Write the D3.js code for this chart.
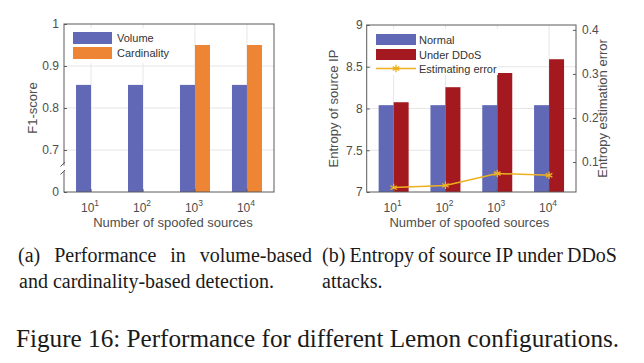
<!DOCTYPE html>
<html>
<head>
<meta charset="utf-8">
<script src="https://cdn.jsdelivr.net/npm/d3@7"></script>
<style>
  html, body { margin: 0; padding: 0; background: #fff; }
  svg { display: block; }
  .tick text { fill: #4d4d4d; }
</style>
</head>
<body>
<div id="viz"></div>
<script>
// ---- data ----
const exponents = ["1", "2", "3", "4"];          // 10^1 .. 10^4 spoofed sources
const volume = [0.855, 0.855, 0.855, 0.855];
const cardinality = [0, 0, 0.95, 0.95];
const f1Ticks = [0.6, 0.7, 0.8, 0.9, 1];          // 0.6 slot is shown as "0" (broken axis)
const f1TickLabels = ["0", "0.7", "0.8", "0.9", "1"];

const normal = [8.04, 8.04, 8.04, 8.04];
const ddos = [8.075, 8.255, 8.425, 8.59];
const estError = [0.042, 0.047, 0.074, 0.070];
const entropyTicks = [7, 7.5, 8, 8.5, 9];
const errorTicks = [0.1, 0.2, 0.3, 0.4];

const WIDTH = 644, HEIGHT = 363;
const COLORS = {
  blue: "#6168b6",
  orange: "#ed8535",
  red: "#a3191f",
  gold: "#edb120",
  grid: "#e6e6e6",
  axis: "#5a5a5a",
  text: "#4d4d4d"
};
const SANS = "'Liberation Sans', Arial, sans-serif";
const SERIF = "'Liberation Serif', 'Times New Roman', serif";

const svg = d3.select("#viz").append("svg")
  .attr("width", WIDTH)
  .attr("height", HEIGHT)
  .attr("viewBox", `0 0 ${WIDTH} ${HEIGHT}`);

const barW = 15;

function powLabel(sel, x, y, exp) {
  const t = sel.append("text")
    .attr("x", x)
    .attr("y", y)
    .attr("text-anchor", "middle")
    .style("font-family", SANS)
    .style("fill", COLORS.text);
  t.append("tspan").style("font-size", "12px").text("10");
  t.append("tspan").attr("dy", -6).style("font-size", "8.5px").text(exp);
}

function frame(g, x0, x1, y0, y1) {
  g.append("rect")
    .attr("x", x0).attr("y", y0)
    .attr("width", x1 - x0).attr("height", y1 - y0)
    .attr("fill", "none")
    .attr("stroke", COLORS.axis)
    .attr("stroke-width", 1);
}

// ---------------- (a) F1-score ----------------
{
  const L = 64, R = 274, T = 24, B = 192;
  const g = svg.append("g");
  const x = d3.scalePoint().domain(exponents).range([L, R]).padding(0.52);
  const y = d3.scaleLinear().domain([0.6, 1]).range([B, T]);
  const yv = v => y(Math.max(v, 0.6));

  // grid
  g.append("g").selectAll("line").data(f1Ticks.slice(1, -1)).join("line")
    .attr("x1", L).attr("x2", R).attr("y1", d => y(d)).attr("y2", d => y(d))
    .attr("stroke", COLORS.grid);
  g.append("g").selectAll("line").data(exponents).join("line")
    .attr("x1", d => x(d)).attr("x2", d => x(d)).attr("y1", T).attr("y2", B)
    .attr("stroke", COLORS.grid);

  // bars
  g.append("g").selectAll("rect").data(volume).join("rect")
    .attr("x", (d, i) => x(exponents[i]) - barW)
    .attr("y", d => yv(d))
    .attr("width", barW)
    .attr("height", d => B - yv(d))
    .attr("fill", COLORS.blue);
  g.append("g").selectAll("rect").data(cardinality).join("rect")
    .attr("x", (d, i) => x(exponents[i]))
    .attr("y", d => yv(d))
    .attr("width", barW)
    .attr("height", d => B - yv(d))
    .attr("fill", COLORS.orange);

  frame(g, L, R, T, B);

  // y axis
  const ya = g.append("g")
    .attr("transform", `translate(${L},0)`)
    .call(d3.axisLeft(y).tickValues(f1Ticks)
      .tickFormat((d, i) => f1TickLabels[i])
      .tickSizeInner(-3).tickSizeOuter(0).tickPadding(5));
  ya.select(".domain").remove();
  ya.selectAll("line").attr("stroke", COLORS.axis);
  ya.selectAll("text").style("font-size", "12px").style("font-family", SANS);

  // x ticks (inward)
  g.append("g").selectAll("line").data(exponents).join("line")
    .attr("x1", d => x(d)).attr("x2", d => x(d)).attr("y1", B).attr("y2", B - 3)
    .attr("stroke", COLORS.axis);
  exponents.forEach(e => powLabel(g, x(e) - 1, 212, e));

  // axis break marks
  g.append("rect").attr("x", L - 2).attr("y", 165.5).attr("width", 4).attr("height", 5.5).attr("fill", "#fff");
  [166.5, 174.5].forEach(yy => {
    g.append("line")
      .attr("x1", L - 3.5).attr("y1", yy)
      .attr("x2", L + 1).attr("y2", yy - 4.5)
      .attr("stroke", COLORS.axis).attr("stroke-width", 1);
  });

  g.append("text")
    .attr("x", (L + R) / 2 + 4).attr("y", 227)
    .attr("text-anchor", "middle")
    .style("font-family", SANS).style("font-size", "13px").style("fill", COLORS.text)
    .text("Number of spoofed sources");
  g.append("text")
    .attr("transform", `translate(37,${(T + B) / 2}) rotate(-90)`)
    .attr("text-anchor", "middle")
    .style("font-family", SANS).style("font-size", "13px").style("fill", COLORS.text)
    .text("F1-score");

  // legend (white box, no border)
  const leg = g.append("g");
  leg.append("rect").attr("x", 69).attr("y", 28).attr("width", 102).attr("height", 35).attr("fill", "#fff");
  [["Volume", COLORS.blue, 32], ["Cardinality", COLORS.orange, 47]].forEach(([name, c, yy]) => {
    leg.append("rect").attr("x", 73).attr("y", yy).attr("width", 39).attr("height", 12).attr("fill", c);
    leg.append("text").attr("x", 117).attr("y", yy + 6)
      .attr("dominant-baseline", "central")
      .style("font-family", SANS).style("font-size", "11px").style("fill", "#333")
      .text(name);
  });
}

// ---------------- (b) Entropy ----------------
{
  const L = 366.7, R = 576, T = 25, B = 192;
  const g = svg.append("g");
  const x = d3.scalePoint().domain(exponents).range([L, R]).padding(0.52);
  const y = d3.scaleLinear().domain([7, 9]).range([B, T]);
  const y2 = d3.scaleLinear().domain([0.032, 0.411]).range([B, T]);

  g.append("g").selectAll("line").data(entropyTicks.slice(1, -1)).join("line")
    .attr("x1", L).attr("x2", R).attr("y1", d => y(d)).attr("y2", d => y(d))
    .attr("stroke", COLORS.grid);
  g.append("g").selectAll("line").data(exponents).join("line")
    .attr("x1", d => x(d)).attr("x2", d => x(d)).attr("y1", T).attr("y2", B)
    .attr("stroke", COLORS.grid);

  g.append("g").selectAll("rect").data(normal).join("rect")
    .attr("x", (d, i) => x(exponents[i]) - barW)
    .attr("y", d => y(d))
    .attr("width", barW)
    .attr("height", d => B - y(d))
    .attr("fill", COLORS.blue);
  g.append("g").selectAll("rect").data(ddos).join("rect")
    .attr("x", (d, i) => x(exponents[i]))
    .attr("y", d => y(d))
    .attr("width", barW)
    .attr("height", d => B - y(d))
    .attr("fill", COLORS.red);

  // estimation error line
  const line = d3.line().x((d, i) => x(exponents[i])).y(d => y2(d));
  g.append("path").datum(estError)
    .attr("d", line)
    .attr("fill", "none")
    .attr("stroke", COLORS.gold)
    .attr("stroke-width", 1.5);
  const star = d3.symbol().type(d3.symbolAsterisk).size(40);
  g.append("g").selectAll("path").data(estError).join("path")
    .attr("transform", (d, i) => `translate(${x(exponents[i])},${y2(d)})`)
    .attr("d", star)
    .attr("fill", "none")
    .attr("stroke", COLORS.gold)
    .attr("stroke-width", 1.3);

  frame(g, L, R, T, B);

  const ya = g.append("g")
    .attr("transform", `translate(${L},0)`)
    .call(d3.axisLeft(y).tickValues(entropyTicks)
      .tickFormat(d3.format("~g"))
      .tickSizeInner(-3).tickSizeOuter(0).tickPadding(4));
  ya.select(".domain").remove();
  ya.selectAll("line").attr("stroke", COLORS.axis);
  ya.selectAll("text").style("font-size", "12px").style("font-family", SANS);

  const yb = g.append("g")
    .attr("transform", `translate(${R},0)`)
    .call(d3.axisRight(y2).tickValues(errorTicks)
      .tickFormat(d3.format(".1f"))
      .tickSizeInner(-3).tickSizeOuter(0).tickPadding(6));
  yb.select(".domain").remove();
  yb.selectAll("line").attr("stroke", COLORS.axis);
  yb.selectAll("text").style("font-size", "12px").style("font-family", SANS);

  g.append("g").selectAll("line").data(exponents).join("line")
    .attr("x1", d => x(d)).attr("x2", d => x(d)).attr("y1", B).attr("y2", B - 3)
    .attr("stroke", COLORS.axis);
  exponents.forEach(e => powLabel(g, x(e) - 1, 212, e));

  g.append("text")
    .attr("x", (L + R) / 2 - 2).attr("y", 227)
    .attr("text-anchor", "middle")
    .style("font-family", SANS).style("font-size", "13px").style("fill", COLORS.text)
    .text("Number of spoofed sources");
  g.append("text")
    .attr("transform", `translate(338,${(T + B) / 2}) rotate(-90)`)
    .attr("text-anchor", "middle")
    .style("font-family", SANS).style("font-size", "13px").style("fill", COLORS.text)
    .text("Entropy of source IP");
  g.append("text")
    .attr("transform", `translate(607,${(T + B) / 2}) rotate(-90)`)
    .attr("text-anchor", "middle")
    .style("font-family", SANS).style("font-size", "13px").style("fill", COLORS.text)
    .text("Entropy estimation error");

  const leg = g.append("g");
  leg.append("rect").attr("x", 372).attr("y", 29).attr("width", 126).attr("height", 46).attr("fill", "#fff");
  [["Normal", COLORS.blue, 34], ["Under DDoS", COLORS.red, 49]].forEach(([name, c, yy]) => {
    leg.append("rect").attr("x", 376).attr("y", yy).attr("width", 40).attr("height", 11).attr("fill", c);
    leg.append("text").attr("x", 419).attr("y", yy + 5.5)
      .attr("dominant-baseline", "central")
      .style("font-family", SANS).style("font-size", "11px").style("fill", "#333")
      .text(name);
  });
  leg.append("line").attr("x1", 376).attr("x2", 416).attr("y1", 68.5).attr("y2", 68.5)
    .attr("stroke", COLORS.gold).attr("stroke-width", 1.5);
  leg.append("path").attr("transform", "translate(396,68.5)").attr("d", star)
    .attr("fill", "none").attr("stroke", COLORS.gold).attr("stroke-width", 1.3);
  leg.append("text").attr("x", 419).attr("y", 68.5)
    .attr("dominant-baseline", "central")
    .style("font-family", SANS).style("font-size", "11px").style("fill", "#333")
    .text("Estimating error");
}

// ---------------- captions ----------------
function justified(words, x0, x1, y, size) {
  const t = svg.append("g");
  const nodes = words.map(w => t.append("text")
    .attr("y", y)
    .style("font-family", SERIF).style("font-size", size + "px").style("fill", "#1a1a1a")
    .text(w));
  const widths = nodes.map(n => n.node().getComputedTextLength());
  const gap = (x1 - x0 - d3.sum(widths)) / (words.length - 1);
  let cx = x0;
  nodes.forEach((n, i) => { n.attr("x", cx); cx += widths[i] + gap; });
}
function plain(str, x0, y, size) {
  svg.append("text").attr("x", x0).attr("y", y)
    .style("font-family", SERIF).style("font-size", size + "px").style("fill", "#1a1a1a")
    .text(str);
}

justified(["(a)", "Performance", "in", "volume-based"], 18, 312, 262, 20);
plain("and cardinality-based detection.", 19, 288, 20);
justified(["(b)", "Entropy", "of", "source", "IP", "under", "DDoS"], 322, 617, 262, 20);
plain("attacks.", 322, 288, 20);
plain("Figure 16: Performance for different Lemon configurations.", 16, 347, 25.2);
</script>
</body>
</html>
